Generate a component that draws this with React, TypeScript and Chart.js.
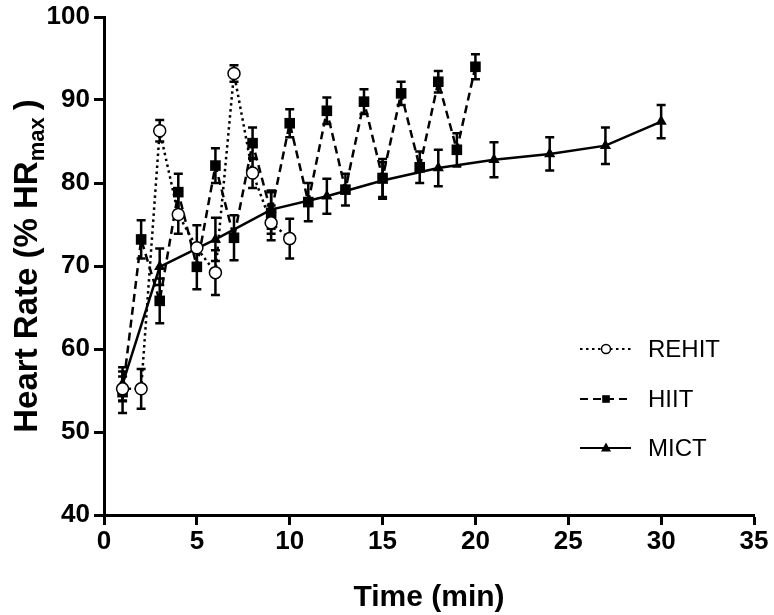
import React, { useEffect, useRef } from "react";
import { Chart, registerables } from "chart.js";

Chart.register(...registerables);

const rehitTime = [1, 2, 3, 4, 5, 6, 7, 8, 9, 10];
const rehitHR = [55.2, 55.2, 86.3, 76.2, 72.2, 69.2, 93.2, 81.2, 75.2, 73.3];
const rehitErr = [1.5, 2.4, 1.3, 2.3, 2.7, 2.7, 1.0, 1.8, 2.1, 2.4];

const hiitTime = [1, 2, 3, 4, 5, 6, 7, 8, 9, 10, 11, 12, 13, 14, 15, 16, 17, 18, 19, 20];
const hiitHR = [54.8, 73.2, 65.8, 78.9, 69.9, 82.1, 73.4, 84.8, 76.4, 87.2, 77.7, 88.7, 79.2, 89.8, 80.6, 90.8, 81.9, 92.2, 84.0, 94.0];
const hiitErr = [2.5, 2.3, 2.7, 2.2, 2.7, 2.1, 2.7, 1.9, 2.5, 1.7, 2.3, 1.6, 1.9, 1.5, 2.3, 1.4, 1.9, 1.3, 2.0, 1.5];

const mictTime = [1, 3, 6, 9, 12, 15, 18, 21, 24, 27, 30];
const mictHR = [55.8, 69.9, 73.2, 76.8, 78.4, 80.3, 81.8, 82.8, 83.5, 84.5, 87.4];
const mictErr = [2.0, 2.2, 2.6, 2.3, 2.1, 2.2, 2.2, 2.1, 2.0, 2.2, 2.0];

const seriesNames = ["REHIT", "HIIT", "MICT"];
const xTitle = "Time (min)";
const yTitleMain = "Heart Rate (% HR";
const yTitleSub = "max";
const yTitleEnd = ")";

const FONT = "'Liberation Sans', Arial, sans-serif";

function drawMarker(ctx: CanvasRenderingContext2D, style: string, x: number, y: number, s: number) {
  ctx.save();
  ctx.lineWidth = 1.5;
  ctx.strokeStyle = "#000";
  ctx.setLineDash([]);
  if (style === "circle") {
    ctx.fillStyle = "#fff";
    ctx.beginPath();
    ctx.arc(x, y, s, 0, Math.PI * 2);
    ctx.fill();
    ctx.stroke();
  } else if (style === "rect") {
    ctx.fillStyle = "#000";
    ctx.fillRect(x - s, y - s, 2 * s, 2 * s);
  } else {
    ctx.fillStyle = "#000";
    ctx.beginPath();
    ctx.moveTo(x, y - s * 1.1);
    ctx.lineTo(x + s, y + s * 0.7);
    ctx.lineTo(x - s, y + s * 0.7);
    ctx.closePath();
    ctx.fill();
  }
  ctx.restore();
}

const errorBarPlugin = {
  id: "errorBars",
  beforeDatasetsDraw(chart: any) {
    const ctx = chart.ctx;
    const xs = chart.scales.x;
    const ys = chart.scales.y;
    const errs = [rehitErr, hiitErr, mictErr];
    ctx.save();
    ctx.strokeStyle = "#000";
    ctx.lineWidth = 2.5;
    ctx.setLineDash([]);
    chart.data.datasets.forEach((ds: any, i: number) => {
      ds.data.forEach((p: any, j: number) => {
        const e = errs[i][j];
        const px = xs.getPixelForValue(p.x);
        const top = ys.getPixelForValue(p.y + e);
        const bot = ys.getPixelForValue(p.y - e);
        ctx.beginPath();
        ctx.moveTo(px, top);
        ctx.lineTo(px, bot);
        ctx.moveTo(px - 4.5, top);
        ctx.lineTo(px + 4.5, top);
        ctx.moveTo(px - 4.5, bot);
        ctx.lineTo(px + 4.5, bot);
        ctx.stroke();
      });
    });
    ctx.restore();
  },
};

const decorPlugin = {
  id: "decor",
  afterDraw(chart: any) {
    const ctx = chart.ctx;
    const area = chart.chartArea;
    ctx.save();
    ctx.fillStyle = "#000";
    // x title
    ctx.font = `bold 30px ${FONT}`;
    ctx.textAlign = "center";
    ctx.textBaseline = "middle";
    ctx.fillText(xTitle, (area.left + area.right) / 2, 598);
    // y title with subscript
    ctx.translate(37, 0);
    ctx.rotate(-Math.PI / 2);
    const big = `bold 33px ${FONT}`;
    const small = `bold 22px ${FONT}`;
    ctx.font = big;
    const w1 = ctx.measureText(yTitleMain).width;
    const w3 = ctx.measureText(yTitleEnd).width;
    ctx.font = small;
    const w2 = ctx.measureText(yTitleSub).width;
    const total = w1 + w2 + 7 + w3;
    const cy = (area.top + area.bottom) / 2;
    let sx = -cy - total / 2;
    ctx.textAlign = "left";
    ctx.textBaseline = "alphabetic";
    ctx.font = big;
    ctx.fillText(yTitleMain, sx, 0);
    sx += w1;
    ctx.font = small;
    ctx.fillText(yTitleSub, sx, 7);
    sx += w2 + 7;
    ctx.font = big;
    ctx.fillText(yTitleEnd, sx, 0);
    ctx.restore();

    // legend
    const rows = [349, 399, 448];
    chart.data.datasets.forEach((ds: any, i: number) => {
      const y = rows[i];
      ctx.save();
      ctx.strokeStyle = "#000";
      ctx.lineWidth = 2;
      ctx.setLineDash(ds.borderDash || []);
      ctx.beginPath();
      ctx.moveTo(580, y);
      ctx.lineTo(631, y);
      ctx.stroke();
      ctx.restore();
      drawMarker(ctx, ds.pointStyle, 606, y, ds.pointStyle === "circle" ? 4.5 : ds.pointStyle === "rect" ? 3.8 : 5);
      ctx.save();
      ctx.fillStyle = "#000";
      ctx.font = `24px ${FONT}`;
      ctx.textAlign = "left";
      ctx.textBaseline = "middle";
      ctx.fillText(ds.label, 648, y + 1);
      ctx.restore();
    });
  },
};

export default function App() {
  const ref = useRef<HTMLCanvasElement>(null);
  useEffect(() => {
    const canvas = ref.current!;
    const toPts = (xs: number[], ys: number[]) => xs.map((x, i) => ({ x, y: ys[i] }));
    const chart = new Chart(canvas, {
      type: "line",
      data: {
        datasets: [
          {
            label: seriesNames[0],
            data: toPts(rehitTime, rehitHR),
            borderColor: "#000",
            borderWidth: 2.5,
            borderDash: [2.5, 3.5],
            pointStyle: "circle",
            pointRadius: 6,
            pointBorderWidth: 1.5,
            pointBackgroundColor: "#fff",
            pointBorderColor: "#000",
            tension: 0,
          },
          {
            label: seriesNames[1],
            data: toPts(hiitTime, hiitHR),
            borderColor: "#000",
            borderWidth: 2.5,
            borderDash: [8, 5],
            pointStyle: "rect",
            pointRadius: 7.5,
            pointBorderWidth: 0,
            pointBackgroundColor: "#000",
            pointBorderColor: "#000",
            tension: 0,
          },
          {
            label: seriesNames[2],
            data: toPts(mictTime, mictHR),
            borderColor: "#000",
            borderWidth: 2.5,
            pointStyle: "triangle",
            pointRadius: 6.5,
            pointBorderWidth: 0,
            pointBackgroundColor: "#000",
            pointBorderColor: "#000",
            tension: 0,
          },
        ],
      },
      options: {
        animation: false,
        responsive: false,
        devicePixelRatio: 1,
        layout: { padding: { left: 0, top: 15, right: 20, bottom: 0 } },
        plugins: { legend: { display: false }, tooltip: { enabled: false } },
        scales: {
          x: {
            type: "linear",
            min: 0,
            max: 35,
            ticks: { stepSize: 5, color: "#000", font: { family: FONT, size: 26, weight: "bold", lineHeight: 1 }, padding: 4, maxRotation: 0 },
            grid: { display: true, drawOnChartArea: false, tickLength: 10, tickWidth: 3, tickColor: "#000" },
            border: { display: true, color: "#000", width: 3 },
            afterFit: (s: any) => { s.height = 100; },
          },
          y: {
            min: 40,
            max: 100,
            ticks: { stepSize: 10, color: "#000", font: { family: FONT, size: 26, weight: "bold", lineHeight: 1 }, padding: 4 },
            grid: { display: true, drawOnChartArea: false, tickLength: 10, tickWidth: 3, tickColor: "#000" },
            border: { display: true, color: "#000", width: 3 },
            afterFit: (s: any) => { s.width = 104; },
          },
        },
      },
      plugins: [errorBarPlugin, decorPlugin],
    } as any);
    return () => chart.destroy();
  }, []);
  return (
    <div style={{ position: "fixed", left: 0, top: 0, width: 774, height: 615, background: "#fff" }}>
      <canvas ref={ref} width={774} height={615} style={{ width: 774, height: 615 }} />
    </div>
  );
}
